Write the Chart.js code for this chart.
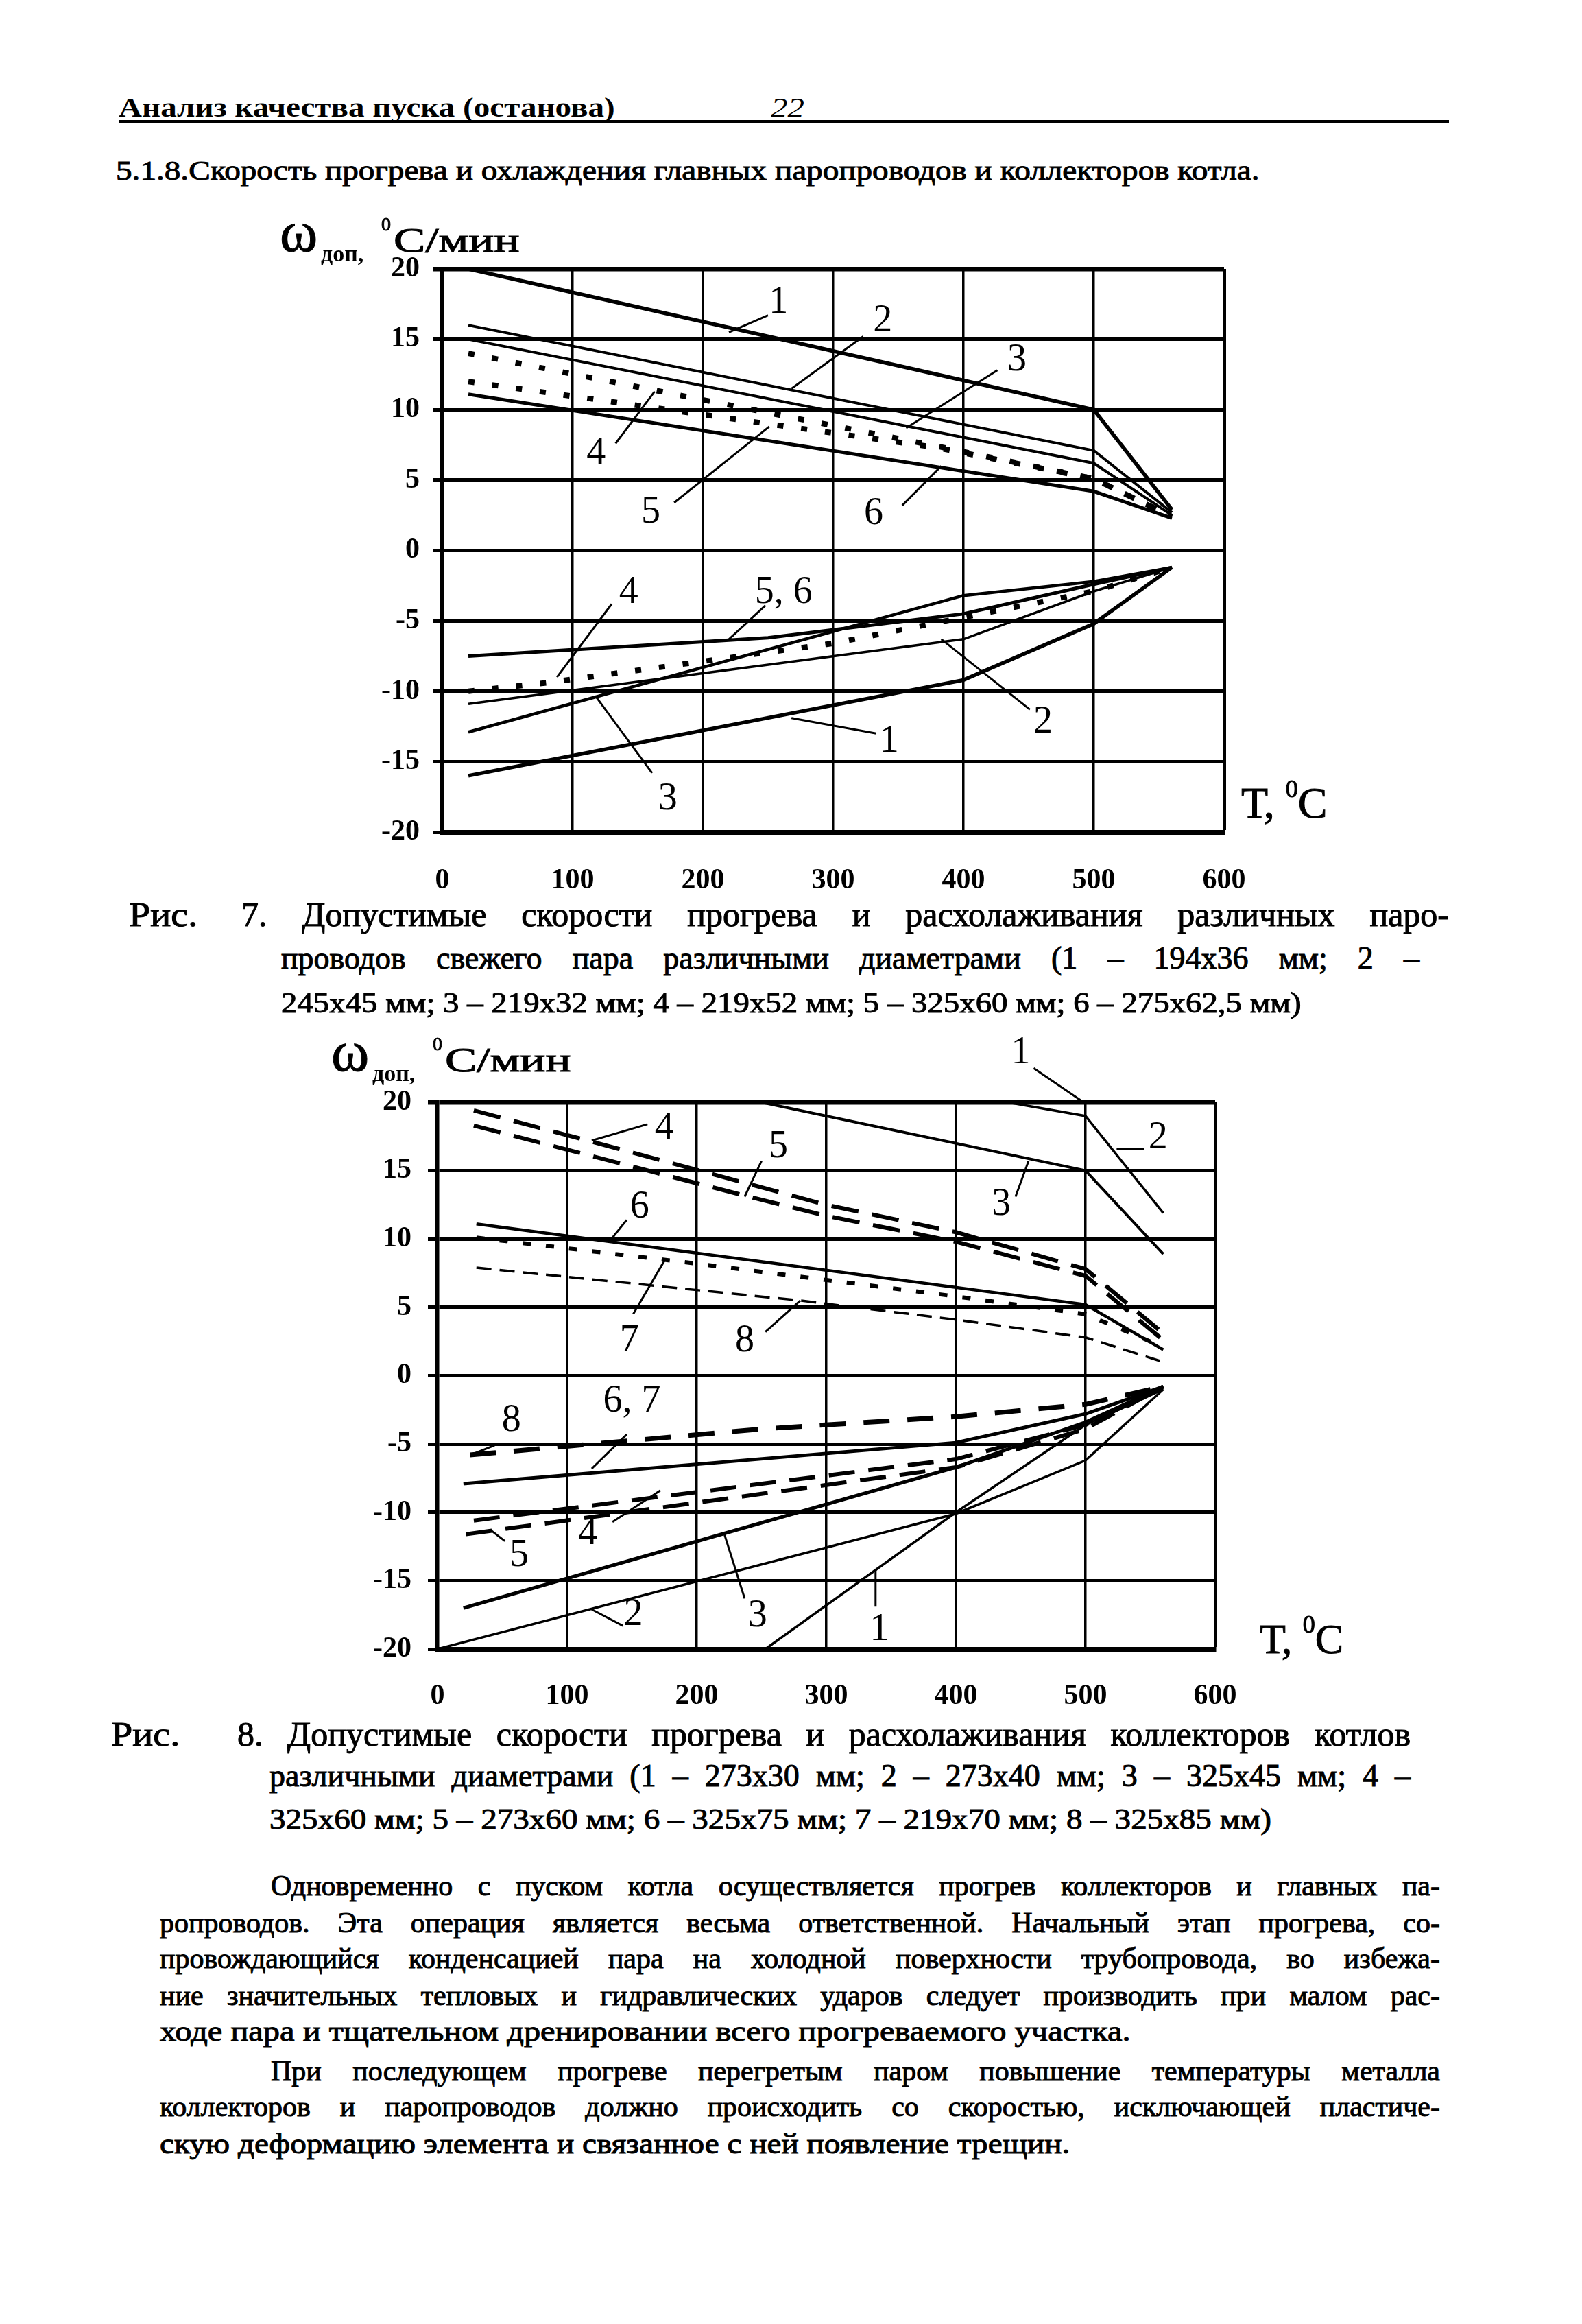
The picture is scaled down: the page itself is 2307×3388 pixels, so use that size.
<!DOCTYPE html>
<html>
<head>
<meta charset="utf-8">
<script src="https://cdn.jsdelivr.net/npm/chart.js@4.4.1/dist/chart.umd.min.js"></script>
<style>
  body { margin: 0; width: 2307px; height: 3388px; position: relative; overflow: hidden; background: #fff; color: #000;
         font-family: "Liberation Serif", "Times New Roman", serif; }
  .t { position: absolute; white-space: nowrap; line-height: 1; transform-origin: 0 0; }
  .ink { -webkit-text-stroke: 1px #000; }
  canvas { position: absolute; }
</style>
</head>
<body>
<canvas id="fig7" width="1600" height="1020" style="left:380px;top:300px"></canvas>
<canvas id="fig8" width="1600" height="1040" style="left:380px;top:1480px"></canvas>
<script>
// axis ticks (both figures)
const xTicks = [0, 100, 200, 300, 400, 500, 600];
const yTicks = [-20, -15, -10, -5, 0, 5, 10, 15, 20];

// Рис. 7 — прогрев (верх), [T, ω]
const f7h1 = [[20, 20], [500, 10], [560, 2.9]];
const f7h2 = [[20, 16], [500, 7.1], [560, 2.7]];
const f7h3 = [[20, 15], [500, 6.2], [560, 2.5]];
const f7h4 = [[20, 14], [380, 7.4], [500, 5.1], [560, 2.4]];
const f7h5 = [[20, 12], [380, 7.3], [500, 5.1], [560, 2.4]];
const f7h6 = [[20, 11.1], [500, 4.2], [560, 2.3]];
// Рис. 7 — расхолаживание (низ)
const f7c1 = [[20, -16], [400, -9.2], [500, -5.2], [560, -1.2]];
const f7c2 = [[20, -10.9], [400, -6.3], [500, -2.9], [560, -1.2]];
const f7c3 = [[20, -12.9], [400, -3.2], [500, -2.2], [560, -1.2]];
const f7c4 = [[20, -10], [80, -9.4], [300, -6.6], [500, -2.9], [560, -1.2]];
const f7c56 = [[20, -7.5], [250, -6.2], [400, -4.5], [500, -2.4], [560, -1.2]];

// Рис. 8 — прогрев
const f8h1 = [[20, 20], [500, 20]];
const f8h2 = [[20, 20], [440, 20], [500, 19], [560, 11.9]];
const f8h3 = [[250, 20], [500, 15], [560, 8.9]];
const f8h4 = [[28, 19.4], [120, 17.1], [300, 12.5], [400, 10.5], [500, 7.8], [560, 3.1]];
const f8h5 = [[28, 18.3], [240, 13.1], [300, 11.7], [400, 9.8], [500, 7.3], [560, 2.6]];
const f8h6 = [[30, 11.1], [500, 5.2], [560, 1.9]];
const f8h7 = [[30, 10.1], [200, 8.2], [400, 5.8], [500, 4.5], [560, 2.1]];
const f8h8 = [[30, 7.9], [280, 5.5], [400, 4.1], [500, 2.8], [560, 1.0]];
// Рис. 8 — расхолаживание
const f8c8 = [[25, -5.8], [250, -3.9], [400, -3.0], [500, -2.1], [560, -0.8]];
const f8c67 = [[20, -7.9], [400, -4.9], [500, -2.8], [560, -0.8]];
const f8c4 = [[28, -10.6], [400, -6.1], [500, -3.6], [560, -0.8]];
const f8c5 = [[22, -11.6], [400, -6.7], [500, -3.9], [560, -0.8]];
const f8c3 = [[20, -17], [400, -6.7], [500, -3.4], [560, -0.8]];
const f8c2 = [[0, -20], [400, -10.1], [500, -6.2], [560, -1.0]];
const f8c1 = [[253, -20], [400, -10], [500, -3.6], [560, -1.0]];

// curve numbers: text, label T, label ω, leader from (T, ω) to (T, ω)
const f7Notes = [
  ['1', 258, 17.6, 250, 16.7, 220, 15.5],
  ['2', 338, 16.3, 323, 15.2, 268, 11.5],
  ['3', 441, 13.5, 426, 12.8, 356, 8.7],
  ['4', 118, 6.9, 133, 7.6, 163, 11.3],
  ['5', 160, 2.7, 178, 3.4, 251, 8.8],
  ['6', 331, 2.6, 353, 3.2, 383, 6.0],
  ['4', 143, -3.0, 130, -3.8, 88, -9.0],
  ['5, 6', 262, -3.0, 248, -3.9, 220, -6.3],
  ['2', 461, -12.2, 451, -11.3, 383, -6.3],
  ['1', 343, -13.6, 333, -13.0, 268, -11.9],
  ['3', 173, -17.7, 161, -15.8, 118, -10.4],
];
const f8Notes = [
  ['1', 450, 23.6, 460, 22.5, 497, 20.1],
  ['2', 556, 17.4, 524, 16.6, 545, 16.6],
  ['3', 435, 12.5, 446, 13.1, 456, 15.7],
  ['4', 175, 18.1, 162, 18.4, 119, 17.2],
  ['5', 263, 16.7, 250, 15.7, 237, 13.1],
  ['6', 156, 12.3, 146, 11.4, 135, 10.1],
  ['7', 148, 2.5, 151, 4.5, 175, 8.4],
  ['8', 237, 2.5, 253, 3.2, 280, 5.5],
  ['8', 57, -3.3, 44, -5.1, 28, -5.7],
  ['6, 7', 150, -1.9, 146, -4.3, 119, -6.8],
  ['4', 116, -11.6, 135, -10.7, 172, -8.4],
  ['5', 63, -13.2, 52, -12.1, 41, -11.3],
  ['2', 151, -17.5, 143, -18.3, 119, -17.1],
  ['3', 247, -17.6, 237, -16.3, 221, -11.5],
  ['1', 341, -18.6, 338, -16.9, 338, -14.2],
];

Chart.defaults.font.family = '"Liberation Serif", "Times New Roman", serif';
Chart.defaults.color = '#000';

const notes = {
  id: 'notes',
  afterDatasetsDraw(chart, args, opts) {
    const { ctx } = chart;
    const x = chart.scales.x, y = chart.scales.y;
    ctx.save();
    ctx.strokeStyle = '#000';
    ctx.fillStyle = '#000';
    ctx.lineWidth = 3;
    ctx.font = '56px "Liberation Serif"';
    ctx.textAlign = 'center';
    ctx.textBaseline = 'middle';
    opts.items.forEach(([s, tx, ty, x1, y1, x2, y2]) => {
      ctx.beginPath();
      ctx.moveTo(x.getPixelForValue(x1), y.getPixelForValue(y1));
      ctx.lineTo(x.getPixelForValue(x2), y.getPixelForValue(y2));
      ctx.stroke();
      ctx.fillText(s, x.getPixelForValue(tx), y.getPixelForValue(ty));
    });
    ctx.restore();
  },
};

const pts = (arr) => arr.map(([x, y]) => ({ x, y }));
const solid = (arr, w) => ({ data: pts(arr), borderColor: '#000', borderWidth: w });
const dashed = (arr, w, dash) => ({ data: pts(arr), borderColor: '#000', borderWidth: w, borderDash: dash });

function makeChart(id, datasets, items, lay) {
  return new Chart(document.getElementById(id), {
    type: 'line',
    data: { datasets },
    plugins: [notes],
    options: {
      responsive: false,
      animation: false,
      devicePixelRatio: 1,
      layout: { padding: { top: lay.top, right: lay.right, left: 0, bottom: 0 } },
      elements: { point: { radius: 0 }, line: { tension: 0, borderCapStyle: 'butt', borderJoinStyle: 'miter' } },
      plugins: { legend: { display: false }, tooltip: { enabled: false }, notes: { items } },
      scales: {
        x: {
          type: 'linear', min: 0, max: 600,
          afterBuildTicks: (s) => { s.ticks = xTicks.map((v) => ({ value: v })); },
          afterFit: (s) => { s.height = lay.xh; },
          grid: { color: '#000', drawTicks: false, lineWidth: (c) => (c.tick && c.tick.value === 600 ? 5 : 3.5) },
          border: { color: '#000', width: 7 },
          ticks: { padding: lay.xpad, font: { size: 42, weight: 'bold' }, color: '#000' },
        },
        y: {
          type: 'linear', min: -20, max: 20,
          afterBuildTicks: (s) => { s.ticks = yTicks.map((v) => ({ value: v })); },
          afterFit: (s) => { s.width = lay.yw; },
          grid: { color: '#000', tickLength: 14, lineWidth: (c) => (c.tick && c.tick.value === 20 ? 6.5 : 5) },
          border: { color: '#000', width: 5.5 },
          ticks: { padding: lay.ypad, font: { size: 42, weight: 'bold' }, color: '#000' },
        },
      },
    },
  });
}

makeChart('fig7', [
  solid(f7h1, 5.5), solid(f7h2, 4), solid(f7h3, 4),
  dashed(f7h4, 8, [9, 26]), dashed(f7h5, 8, [9, 26]), solid(f7h6, 5),
  solid(f7c1, 5.5), solid(f7c2, 3.5), solid(f7c3, 4.5),
  dashed(f7c4, 8, [9, 26]), solid(f7c56, 5),
], f7Notes, { top: 92, right: 195, xh: 107, yw: 265, xpad: 46, ypad: 19 });

makeChart('fig8', [
  solid(f8h1, 4), solid(f8h2, 3.5), solid(f8h3, 4),
  dashed(f8h4, 6, [40, 20]), dashed(f8h5, 6, [40, 20]), solid(f8h6, 4.5),
  dashed(f8h7, 6, [12, 22]), dashed(f8h8, 3.5, [22, 12]),
  dashed(f8c8, 7, [38, 26]), solid(f8c67, 5),
  dashed(f8c4, 6, [38, 20]), dashed(f8c5, 6, [38, 20]),
  solid(f8c3, 5), solid(f8c2, 3.5), solid(f8c1, 3.5),
], f8Notes, { top: 127, right: 208, xh: 116, yw: 258, xpad: 44, ypad: 24 });

// page text: x, baseline, size; w = width to fit
function put(html, x, base, size, o = {}) {
  const d = document.createElement('div');
  d.className = 't' + (o.ink ? ' ink' : '');
  d.style.left = x + 'px';
  d.style.top = (base - 0.84 * size) + 'px';
  d.style.fontSize = size + 'px';
  if (o.bold) d.style.fontWeight = 'bold';
  if (o.italic) d.style.fontStyle = 'italic';
  d.innerHTML = html;
  document.body.appendChild(d);
  if (o.w) {
    const nat = d.offsetWidth;
    if (o.justify && nat < o.w) {
      d.style.width = o.w + 'px';
      d.style.whiteSpace = 'normal';
      d.style.textAlign = 'justify';
      d.style.textAlignLast = 'justify';
    } else {
      d.style.transform = 'scaleX(' + (o.w / nat) + ')';
    }
  }
  return d;
}

put('Анализ качества пуска (останова)', 173, 171, 40, { bold: true, w: 724 });
put('22', 1124, 171, 40, { italic: true, w: 49 });
const rule = document.createElement('div');
rule.style.cssText = 'position:absolute;left:173px;top:175px;width:1940px;height:5px;background:#000';
document.body.appendChild(rule);
put('5.1.8.Скорость прогрева и охлаждения главных паропроводов и коллекторов котла.', 169, 263, 40, { ink: true, w: 1668 });

function axisTitles(dx, dy) {
  put('ω', 408 + dx, 367 + dy, 84, { ink: true });
  put('доп,', 468 + dx, 382 + dy, 34, { bold: true });
  put('0', 556 + dx, 337 + dy, 28, { ink: true });
  put('С/мин', 574 + dx, 367 + dy, 50, { ink: true, w: 183 });
}
axisTitles(0, 0);
axisTitles(75, 1195);
put('Т, <span style="font-size:36px;position:relative;top:-30px">0</span>С', 1810, 1193, 64, { ink: true });
put('Т, <span style="font-size:36px;position:relative;top:-30px">0</span>С', 1837, 2410, 62, { ink: true });

// captions
put('Рис.', 188, 1350, 50, { ink: true, w: 100 });
put('7. Допустимые скорости прогрева и расхолаживания различных паро-', 352, 1350, 50, { ink: true, w: 1761, justify: true });
put('проводов свежего пара различными диаметрами (1 – 194x36 мм; 2 –', 410, 1413, 46, { ink: true, w: 1660, justify: true });
put('245x45 мм; 3 – 219x32 мм; 4 – 219x52 мм; 5 – 325x60 мм; 6 – 275x62,5 мм)', 410, 1476, 42, { ink: true, w: 1487 });

put('Рис.', 162, 2545, 50, { ink: true, w: 100 });
put('8. Допустимые скорости прогрева и расхолаживания коллекторов котлов', 346, 2545, 50, { ink: true, w: 1711, justify: true });
put('различными диаметрами (1 – 273x30 мм; 2 – 273x40 мм; 3 – 325x45 мм; 4 –', 393, 2605, 46, { ink: true, w: 1664, justify: true });
put('325x60 мм; 5 – 273x60 мм; 6 – 325x75 мм; 7 – 219x70 мм; 8 – 325x85 мм)', 393, 2666, 42, { ink: true, w: 1461 });

// body text
const body = [
  ['Одновременно с пуском котла осуществляется прогрев коллекторов и главных па-', 395, 2763, 1705, true],
  ['ропроводов. Эта операция является весьма ответственной. Начальный этап прогрева, со-', 233, 2817, 1867, true],
  ['провождающийся конденсацией пара на холодной поверхности трубопровода, во избежа-', 233, 2869, 1867, true],
  ['ние значительных тепловых и гидравлических ударов следует производить при малом рас-', 233, 2923, 1867, true],
  ['ходе пара и тщательном дренировании всего прогреваемого участка.', 233, 2975, 1416, false],
  ['При последующем прогреве перегретым паром повышение температуры металла', 395, 3033, 1705, true],
  ['коллекторов и паропроводов должно происходить со скоростью, исключающей пластиче-', 233, 3085, 1867, true],
  ['скую деформацию элемента и связанное с ней появление трещин.', 233, 3139, 1327, false],
];
body.forEach(([s, x, b, w, j]) => put(s, x, b, 42, { ink: true, w, justify: j }));
</script>
</body>
</html>
